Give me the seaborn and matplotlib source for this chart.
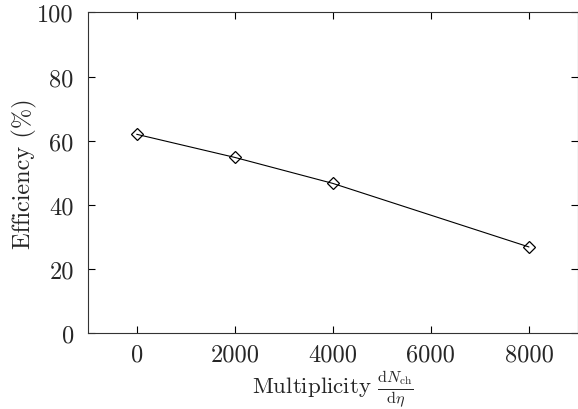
import matplotlib
matplotlib.use("Agg")
import matplotlib.pyplot as plt
import seaborn as sns
import pandas as pd

# Track-finding efficiency versus charged-particle multiplicity
multiplicity = [0, 2000, 4000, 8000]
efficiency = [62.0, 54.8, 46.7, 26.9]

x_ticks = [0, 2000, 4000, 6000, 8000]
y_ticks = [0, 20, 40, 60, 80, 100]

sns.set_style("ticks")
plt.rcParams["font.family"] = ["cmr10", "DejaVu Serif"]
plt.rcParams["mathtext.fontset"] = "cm"
plt.rcParams["axes.formatter.use_mathtext"] = True
plt.rcParams["axes.unicode_minus"] = False

fs = 17.5
fig = plt.figure(figsize=(5.78, 4.10), dpi=100)
ax = fig.add_axes([0.1517, 0.1846, 0.8483, 0.7829])

df = pd.DataFrame({"mult": multiplicity, "eff": efficiency})
sns.lineplot(data=df, x="mult", y="eff", ax=ax, color="black", linewidth=0.8,
             marker="D", markersize=6.5, markerfacecolor="none",
             markeredgecolor="black", markeredgewidth=0.9)

ax.set_xlim(-1000, 9000)
ax.set_ylim(0, 100)
ax.set_xticks(x_ticks)
ax.set_yticks(y_ticks)
ax.set_xticklabels([str(t) for t in x_ticks], fontsize=fs)
ax.set_yticklabels([str(t) for t in y_ticks], fontsize=fs)

ax.tick_params(direction="in", length=5, width=0.8, top=True, right=True,
               color="black", pad=10)
ax.tick_params(axis="x", pad=7)
for s in ax.spines.values():
    s.set_linewidth(0.8)
    s.set_color("#333333")
    s.set_visible(True)

ax.set_xlabel(r"Multiplicity $\frac{\mathrm{d}N_{\mathrm{ch}}}{\mathrm{d}\eta}$",
              fontsize=16.5)
ax.xaxis.set_label_coords(0.5, -0.17, transform=ax.transAxes)
ax.xaxis.label.set_va("center")
ax.set_ylabel("Efficiency (%)", fontsize=fs, labelpad=0)

fig.savefig("out.png", dpi=100)
